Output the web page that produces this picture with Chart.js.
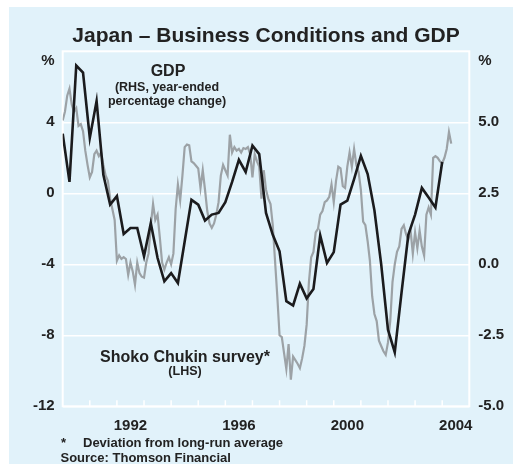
<!DOCTYPE html>
<html><head><meta charset="utf-8">
<script src="https://cdn.jsdelivr.net/npm/chart.js@4.4.1/dist/chart.umd.min.js"></script>
<style>
html,body{margin:0;padding:0;background:#fff;}
#wrap{position:absolute;left:0;top:0;width:513px;height:464px;}
</style></head><body>
<div id="wrap"><canvas id="c" width="513" height="464"></canvas></div>
<script>
const chartTitle = 'Japan – Business Conditions and GDP';
const surveyStartYear = 1990; // monthly, from January 1990 (LHS)
const surveyValues = [
  4.1, 4.6, 5.5, 5.9, 5.0, 4.6, 4.8, 3.8, 3.9, 3.5, 2.4, 1.6,
  0.9, 1.2, 2.2, 2.4, 2.1, 2.3, 1.6, 1.0, 0.7, -0.3, -0.9, -1.5,
  -3.8, -3.5, -3.7, -3.6, -3.7, -4.6, -3.9, -4.4, -5.15, -3.9, -4.5, -4.7,
  -4.75, -3.9, -3.4, -1.8, -0.6, -1.5, -1.2, -2.5, -3.9, -4.3, -3.9, -3.6,
  -4.0, -3.4, -0.9, 0.5, -0.4, 1.0, 2.6, 2.75, 2.7, 1.8, 1.7, 1.55,
  1.4, 0.3, 1.3, 0.2, -1.0, -1.7, -1.95, -1.7, -1.2, -0.5, 1.0, 1.6,
  1.3, 1.0, 3.3, 2.3, 2.6, 2.4, 2.5, 2.3, 2.55, 2.5, 2.6, 2.2,
  0.9, 2.2, 1.8, 1.5, -0.3, 1.3, 0.2, -0.3, -0.6, -1.8, -3.8, -5.8,
  -8.0, -8.1, -9.0, -9.9, -8.5, -10.5, -9.2, -9.4, -9.6, -9.85, -9.3, -8.6,
  -7.4, -5.0, -3.6, -3.3, -2.2, -2.0, -1.2, -1.0, -0.5, -0.4, -0.2, 0.5,
  -0.5, 0.7, 1.5, 1.4, 0.4, 0.3, 1.5, 2.3, 1.5, 2.5, 1.6, 1.2,
  0.2, -1.6, -1.8, -2.7, -3.8, -5.8, -6.8, -7.2, -8.3, -8.6, -8.9, -9.1,
  -8.4, -7.2, -5.0, -4.0, -3.3, -3.0, -2.0, -1.8, -2.3, -2.6, -2.1, -3.4,
  -2.2, -3.1, -2.1, -3.0, -3.5, -1.2, -0.8, -1.2, 2.0, 2.1, 2.0, 1.8,
  1.7, 2.0, 2.5, 3.45, 2.8
];
const gdpStartYear = 1990; // quarterly, from 1990 Q1 (RHS)
const gdpValues = [
  4.6, 2.9, 7.0, 6.75,
  4.45, 5.75, 3.15, 2.1,
  2.4, 1.07, 1.28, 1.28,
  0.28, 1.45, 0.22, -0.6,
  -0.31, -0.66, 0.8, 2.27,
  2.1, 1.54, 1.75, 1.81,
  2.19, 2.9, 3.68, 3.25,
  4.18, 3.88, 1.81, 1.04,
  0.46, -1.3, -1.45, -0.68,
  -1.2, -0.87, 1.02, 0.05,
  0.43, 2.1, 2.24, 3.0,
  3.82, 3.18, 1.9, 0.0,
  -2.3, -3.1, -1.0, 1.04,
  1.75, 2.69, 2.35, 2.0,
  3.6
];
const xTickYears = [1992, 1996, 2000, 2004];
const xTickLabels = ['1992', '1996', '2000', '2004'];
const leftTickValues = [-12, -8, -4, 0, 4];
const leftTickLabels = ['-12', '-8', '-4', '0', '4'];
const rightTickValues = [-5, -2.5, 0, 2.5, 5];
const rightTickLabels = ['-5.0', '-2.5', '0.0', '2.5', '5.0'];
const unitLabel = '%';
const gdpLabel = ['GDP', '(RHS, year-ended', 'percentage change)'];
const surveyLabel = ['Shoko Chukin survey*', '(LHS)'];
const footnoteMark = '*';
const footnoteText = 'Deviation from long-run average';
const sourceText = 'Source: Thomson Financial';

const FONT = '"Liberation Sans", Arial, Helvetica, sans-serif';
const TXT = '#222222';
const BG = '#e1f2fa';

const bgPlugin = {
  id: 'bg',
  beforeDraw(chart) {
    const ctx = chart.ctx;
    ctx.save();
    ctx.fillStyle = '#ffffff';
    ctx.fillRect(0, 0, chart.width, chart.height);
    ctx.fillStyle = BG;
    ctx.fillRect(9, 7, chart.width - 9, chart.height - 7);
    ctx.restore();
  }
};

const framePlugin = {
  id: 'frame',
  beforeDatasetsDraw(chart) {
    const ctx = chart.ctx, a = chart.chartArea, xs = chart.scales.x;
    ctx.save();
    ctx.strokeStyle = '#ffffff';
    ctx.lineWidth = 2;
    ctx.strokeRect(a.left, a.top, a.right - a.left, a.bottom - a.top);
    ctx.lineWidth = 1.5;
    ctx.beginPath();
    for (let y = 1991; y <= 2004; y++) {
      const px = xs.getPixelForValue(y);
      ctx.moveTo(px, a.bottom);
      ctx.lineTo(px, a.bottom - 6);
    }
    ctx.stroke();
    ctx.restore();
  }
};

const textPlugin = {
  id: 'texts',
  afterDraw(chart) {
    const ctx = chart.ctx, a = chart.chartArea;
    ctx.save();
    ctx.fillStyle = TXT;
    ctx.textBaseline = 'alphabetic';
    // title
    ctx.textAlign = 'center';
    ctx.font = 'bold 21px ' + FONT;
    ctx.fillText(chartTitle, (a.left + a.right) / 2, 41.5);
    // unit labels
    ctx.font = 'bold 15px ' + FONT;
    ctx.textAlign = 'right';
    ctx.fillText(unitLabel, a.left - 8, 65);
    ctx.textAlign = 'left';
    ctx.fillText(unitLabel, a.right + 9, 65);
    // GDP annotation
    ctx.textAlign = 'center';
    ctx.font = 'bold 16px ' + FONT;
    ctx.fillText(gdpLabel[0], 168, 76);
    ctx.font = 'bold 12.5px ' + FONT;
    ctx.fillText(gdpLabel[1], 167, 90.5);
    ctx.fillText(gdpLabel[2], 167, 105);
    // survey annotation
    ctx.font = 'bold 16px ' + FONT;
    ctx.fillText(surveyLabel[0], 185, 361.5);
    ctx.font = 'bold 12.5px ' + FONT;
    ctx.fillText(surveyLabel[1], 185, 375);
    // footnotes
    ctx.textAlign = 'left';
    ctx.font = 'bold 13px ' + FONT;
    ctx.fillText(footnoteMark, 61, 447);
    ctx.fillText(footnoteText, 83, 446.5);
    ctx.fillText(sourceText, 60.5, 462);
    ctx.restore();
  }
};

new Chart(document.getElementById('c'), {
  type: 'line',
  data: {
    datasets: [
      {
        label: 'GDP',
        data: gdpValues.map((v, i) => ({ x: gdpStartYear + i / 4, y: v })),
        yAxisID: 'yR',
        borderColor: '#1b1b1d',
        borderWidth: 2.6,
        pointRadius: 0,
        tension: 0,
        borderJoinStyle: 'miter'
      },
      {
        label: 'Shoko Chukin survey',
        data: surveyValues.map((v, i) => ({ x: surveyStartYear + i / 12, y: v })),
        yAxisID: 'yL',
        borderColor: '#9ca2a6',
        borderWidth: 2.2,
        pointRadius: 0,
        tension: 0
      }
    ]
  },
  options: {
    responsive: false,
    devicePixelRatio: 1,
    animation: false,
    layout: { padding: { top: 51.3, left: 0, right: 0, bottom: 0 } },
    plugins: { legend: { display: false }, tooltip: { enabled: false }, title: { display: false } },
    scales: {
      x: {
        type: 'linear', min: 1990, max: 2005,
        afterBuildTicks: s => { s.ticks = xTickYears.map(y => ({ value: y + 0.5 })); },
        afterFit: s => { s.height = 464 - 406.3; },
        ticks: {
          callback: (v, i) => xTickLabels[i],
          font: { family: FONT, size: 15, weight: 'bold' },
          color: TXT, padding: 11, maxRotation: 0, autoSkip: false
        },
        grid: { display: false, drawTicks: false },
        border: { display: false }
      },
      yL: {
        position: 'left', min: -12, max: 8,
        afterBuildTicks: s => { s.ticks = leftTickValues.map(v => ({ value: v })); },
        afterFit: s => { s.width = 62.7; },
        ticks: {
          callback: (v, i) => leftTickLabels[i],
          font: { family: FONT, size: 15, weight: 'bold' },
          color: TXT, padding: 8
        },
        grid: { color: '#ffffff', lineWidth: 1.5, drawTicks: false },
        border: { display: false }
      },
      yR: {
        position: 'right', min: -5, max: 7.5,
        afterBuildTicks: s => { s.ticks = rightTickValues.map(v => ({ value: v })); },
        afterFit: s => { s.width = 513 - 469.3; },
        ticks: {
          callback: (v, i) => rightTickLabels[i],
          font: { family: FONT, size: 15, weight: 'bold' },
          color: TXT, padding: 9
        },
        grid: { display: false, drawTicks: false },
        border: { display: false }
      }
    }
  },
  plugins: [bgPlugin, framePlugin, textPlugin]
});
</script>
</body></html>
